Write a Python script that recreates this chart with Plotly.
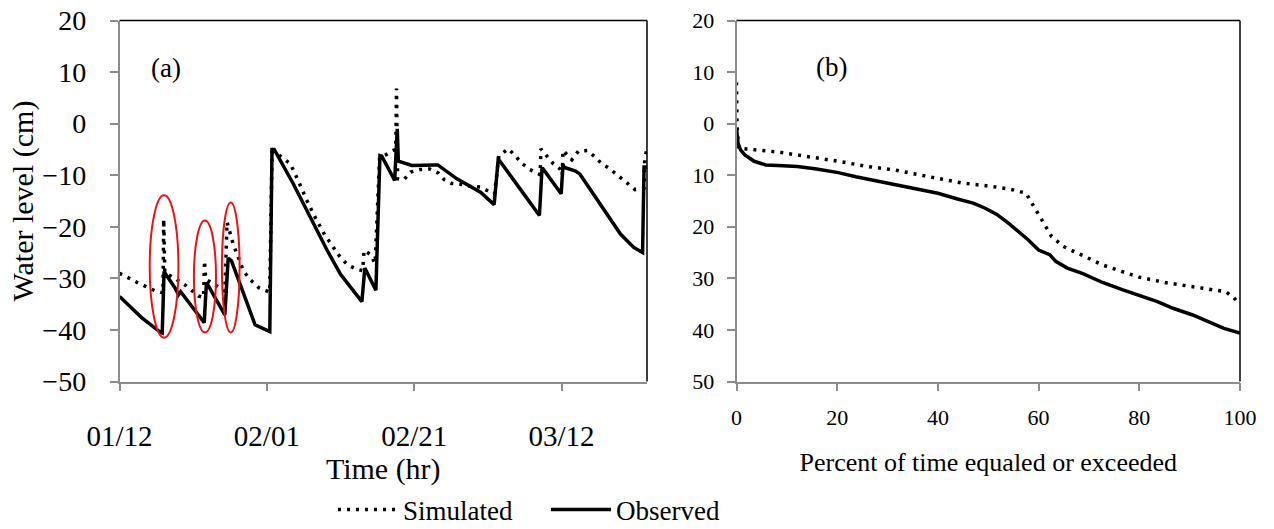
import plotly.graph_objects as go
import pandas as pd

# ---------------- data ----------------
start_date = "2012-01-12"

# (a) time series: elapsed days since 01/12 and water level (cm)
obs_day = [0.0, 3.0, 5.6, 5.8, 6.05, 7.6, 8.0, 8.3, 11.4, 11.5, 11.8, 14.2, 14.3, 14.75, 15.2,
           18.4, 20.2, 20.4, 20.7, 21.0, 23.6, 25.9, 28.2, 30.0, 32.8, 32.9, 33.3, 34.8, 35.35,
           35.6, 37.35, 37.6, 37.7, 37.85, 39.0, 39.7, 42.8, 43.2, 45.8, 49.0, 50.7, 50.85, 51.4,
           51.6, 54.3, 56.9, 57.0, 57.35, 57.5, 59.95, 60.2, 60.4, 61.9, 62.5, 65.3, 68.0, 69.8,
           70.9, 71.0, 71.2, 71.6]
obs_level = [-33.5, -37.6, -40.5, -40.6, -28.7, -32.0, -33.2, -32.6, -38.4, -38.6, -30.8, -37.0,
             -37.1, -26.1, -26.6, -39.0, -40.3, -40.3, -5.0, -5.0, -11.7, -18.2, -24.6, -29.2,
             -34.3, -34.5, -28.0, -32.3, -6.2, -6.3, -11.0, -1.0, -1.0, -7.3, -7.9, -8.1, -8.0,
             -8.0, -10.7, -13.3, -15.5, -15.7, -7.0, -7.2, -12.5, -17.5, -17.8, -8.6, -8.8,
             -13.6, -8.0, -8.5, -9.2, -9.8, -15.6, -21.4, -24.0, -25.0, -25.0, -8.4, -8.4]

sim_day = [0.0, 2.4, 4.8, 5.9, 6.0, 6.15, 7.3, 9.1, 10.7, 11.4, 11.55, 11.7, 12.5, 13.65, 14.3,
           14.6, 15.0, 15.4, 16.8, 17.7, 18.9, 20.1, 20.4, 20.7, 21.1, 22.0, 23.2, 24.3, 25.4,
           26.6, 27.9, 28.8, 30.0, 31.0, 32.1, 33.0, 33.2, 34.0, 34.7, 35.3, 36.2, 37.0, 37.5,
           37.6, 37.75, 38.6, 39.5, 40.8, 42.1, 43.3, 44.1, 45.1, 46.5, 47.85, 49.0, 50.1, 50.9,
           51.5, 52.8, 53.7, 54.6, 55.7, 56.8, 57.1, 57.2, 58.0, 58.9, 59.8, 60.1, 60.2, 61.4,
           62.3, 63.5, 64.5, 65.4, 66.4, 67.3, 68.2, 69.1, 70.0, 70.95, 71.2, 71.3, 71.6]
sim_level = [-29.0, -30.8, -32.4, -32.8, -18.5, -28.9, -29.8, -31.5, -33.4, -33.7, -26.6, -30.2,
             -30.8, -31.8, -32.5, -19.1, -21.1, -23.2, -28.5, -30.2, -31.8, -32.6, -32.7, -5.5,
             -5.5, -6.5, -7.8, -11.2, -14.8, -18.3, -21.7, -23.5, -26.0, -27.4, -28.2, -28.5,
             -24.6, -25.3, -27.1, -6.5, -6.0, -5.3, -5.0, 6.8, -10.7, -10.9, -9.4, -8.9, -8.8,
             -9.6, -10.9, -11.6, -11.8, -12.2, -12.3, -13.1, -13.6, -6.2, -4.9, -6.2, -7.7, -8.9,
             -9.7, -9.9, -4.9, -6.2, -7.8, -8.8, -10.0, -5.2, -7.0, -5.3, -5.2, -6.4, -7.7, -8.6,
             -9.7, -10.7, -11.8, -12.8, -12.6, -12.5, -6.5, -5.0]

# (b) duration curves: percent of time equaled or exceeded
obs_pct = [0.0, 0.3, 0.8, 1.6, 3.5, 5.8, 8.2, 12.1, 15.9, 20.2, 23.7, 28.4, 33.0, 36.2, 40.0, 43.9,
           47.0, 49.4, 51.7, 54.0, 56.0, 57.9, 60.0, 62.2, 63.4, 65.7, 68.8, 72.7, 76.6, 80.1,
           83.6, 86.7, 90.6, 93.7, 96.8, 100.0]
obs_dur = [-0.9, -3.8, -5.1, -6.0, -7.3, -8.0, -8.1, -8.3, -8.8, -9.5, -10.3, -11.2, -12.0, -12.6,
           -13.5, -14.6, -15.4, -16.4, -17.6, -19.3, -20.9, -22.5, -24.5, -25.4, -26.7, -28.0,
           -29.1, -30.8, -32.2, -33.4, -34.5, -35.8, -37.1, -38.4, -39.7, -40.6]
sim_pct = [0.0, 0.1, 0.4, 1.9, 8.2, 15.9, 20.2, 26.0, 31.5, 36.2, 40.0, 44.7, 50.9, 54.8, 57.5,
           59.1, 60.7, 62.6, 64.9, 68.8, 72.7, 76.6, 80.1, 85.1, 89.8, 95.3, 97.2, 98.8, 100.0]
sim_dur = [8.0, 0.0, -4.8, -4.9, -5.5, -6.6, -7.3, -8.3, -9.0, -9.9, -10.6, -11.5, -12.2, -12.8,
           -13.5, -16.1, -19.0, -21.9, -23.8, -25.6, -27.4, -28.7, -29.8, -30.8, -31.5, -32.2,
           -32.6, -33.8, -35.1]

# highlighted rainfall events in (a): day window and level window
event_day_from = [4.1, 10.1, 13.9]
event_day_to = [8.0, 13.1, 16.3]
event_level_top = [-13.9, -18.8, -15.3]
event_level_bottom = [-41.5, -40.5, -40.5]

y_ticks = [-50, -40, -30, -20, -10, 0, 10, 20]
y_ticktext_b = ["50", "40", "30", "20", "10", "0", "10", "20"]

# ---------------- figure ----------------
t0 = pd.Timestamp(start_date)
to_time = lambda days: [t0 + pd.Timedelta(days=d) for d in days]

FONT = "Liberation Serif"
AX_GRAY = "#8c8c8c"
DOT = "3px,6px"

fig = go.Figure()
fig.add_trace(go.Scatter(x=to_time(sim_day), y=sim_level, mode="lines", name="Simulated",
                         line=dict(color="black", width=3.5, dash=DOT), xaxis="x", yaxis="y"))
fig.add_trace(go.Scatter(x=to_time(obs_day), y=obs_level, mode="lines", name="Observed",
                         line=dict(color="black", width=3.5), xaxis="x", yaxis="y"))
fig.add_trace(go.Scatter(x=sim_pct, y=sim_dur, mode="lines", name="Simulated", showlegend=False,
                         line=dict(color="black", width=3.5, dash=DOT), xaxis="x2", yaxis="y2"))
fig.add_trace(go.Scatter(x=obs_pct, y=obs_dur, mode="lines", name="Observed", showlegend=False,
                         line=dict(color="black", width=3.5), xaxis="x2", yaxis="y2"))

shapes = []
for a, b, top, bot in zip(event_day_from, event_day_to, event_level_top, event_level_bottom):
    shapes.append(dict(type="circle", xref="x", yref="y",
                       x0=t0 + pd.Timedelta(days=a), x1=t0 + pd.Timedelta(days=b),
                       y0=bot, y1=top, line=dict(color="#ee1111", width=2)))
for xd, yd in (("x domain", "y domain"), ("x2 domain", "y2 domain")):
    shapes.append(dict(type="line", xref=xd, yref=yd, x0=0, x1=1, y0=1, y1=1,
                       line=dict(color="black", width=1.5)))
    shapes.append(dict(type="line", xref=xd, yref=yd, x0=1, x1=1, y0=0, y1=1,
                       line=dict(color="black", width=1.5)))

ydom = [1 - 381.5 / 529, 1 - 20.5 / 529]
common = dict(showgrid=False, zeroline=False, showline=True, linecolor=AX_GRAY, linewidth=1.5,
              ticks="outside", tickcolor=AX_GRAY, tickwidth=1.5, ticklen=8, automargin=False)

fig.update_layout(
    width=1274, height=529, margin=dict(l=0, r=0, t=0, b=0, autoexpand=False),
    paper_bgcolor="white", plot_bgcolor="white",
    font=dict(family=FONT, color="black"),
    shapes=shapes,
    xaxis=dict(domain=[119.5 / 1274, 647 / 1274], type="date",
               range=[t0, t0 + pd.Timedelta(days=71.6)],
               tick0=t0, dtick=20 * 86400000, tickformat="%m/%d",
               tickfont=dict(size=29), ticklabelstandoff=20,
               title=dict(text="Time (hr)", font=dict(size=30), standoff=0), **common),
    yaxis=dict(domain=ydom, range=[-50, 20], tickvals=y_ticks,
               tickfont=dict(size=28), ticklabelstandoff=18,
               title=dict(text="Water level (cm)", font=dict(size=30), standoff=0), **common),
    xaxis2=dict(domain=[736.5 / 1274, 1240 / 1274], anchor="y2", range=[0, 100], dtick=20,
                tickfont=dict(size=22), ticklabelstandoff=7,
                title=dict(text="Percent of time equaled or exceeded", font=dict(size=26), standoff=24),
                **common),
    yaxis2=dict(domain=ydom, anchor="x2", range=[-50, 20], tickvals=y_ticks, ticktext=y_ticktext_b,
                tickfont=dict(size=22), ticklabelstandoff=8, **common),
    legend=dict(orientation="h", x=333 / 1274, xanchor="left", y=1 - 510 / 529, yanchor="middle",
                font=dict(size=27), itemwidth=60, entrywidth=138, entrywidthmode="pixels",
                bgcolor="rgba(0,0,0,0)"),
    annotations=[
        dict(text="(a)", x=166 / 1274, y=1 - 68 / 529, xref="paper", yref="paper",
             xanchor="center", yanchor="middle", showarrow=False, font=dict(size=27)),
        dict(text="(b)", x=832 / 1274, y=1 - 67 / 529, xref="paper", yref="paper",
             xanchor="center", yanchor="middle", showarrow=False, font=dict(size=27)),
    ],
)

fig.write_html("out.html")
